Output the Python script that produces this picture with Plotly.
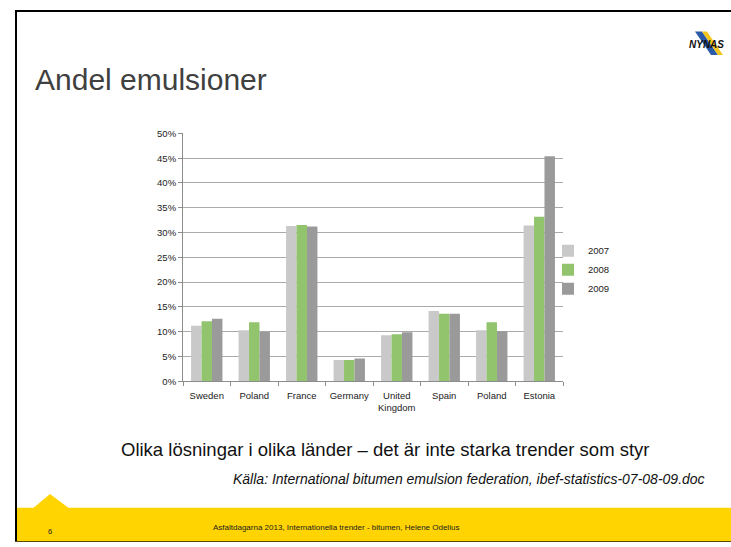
import plotly.graph_objects as go

W, H = 731, 547

countries = ["Sweden", "Poland", "France", "Germany", "United<br>Kingdom", "Spain", "Poland", "Estonia"]
years = ["2007", "2008", "2009"]
v2007 = [0.112, 0.103, 0.313, 0.043, 0.093, 0.142, 0.103, 0.314]
v2008 = [0.121, 0.119, 0.315, 0.043, 0.095, 0.136, 0.119, 0.332]
v2009 = [0.126, 0.100, 0.312, 0.046, 0.099, 0.136, 0.101, 0.454]
y_ticks = [0, 0.05, 0.10, 0.15, 0.20, 0.25, 0.30, 0.35, 0.40, 0.45, 0.50]

colors = ["#C9C9C9", "#92C46E", "#9A9A9A"]
series = [v2007, v2008, v2009]

def px(x):
    return x / W

def py(y):
    return 1 - y / H

xpos = list(range(len(countries)))

fig = go.Figure()
for name, vals, col in zip(years, series, colors):
    fig.add_trace(go.Bar(x=xpos, y=vals, name=name, marker=dict(color=col, line=dict(width=0))))

FONT = "Liberation Sans, Arial, sans-serif"

fig.update_layout(
    width=W, height=H,
    margin=dict(l=0, r=0, t=0, b=0),
    paper_bgcolor="white", plot_bgcolor="white",
    barmode="group", bargap=0.34, bargroupgap=0.0,
    font=dict(family=FONT, color="#333333"),
    showlegend=True,
    legend=dict(x=px(548), y=py(235), xanchor="left", yanchor="top",
                font=dict(size=9.5, color="#222222"), itemwidth=30,
                tracegroupgap=0, bgcolor="rgba(0,0,0,0)"),
    xaxis=dict(domain=[px(183), px(563)], range=[-0.5, 7.5],
               tickmode="array", tickvals=xpos, ticktext=countries,
               ticks="", showgrid=False, zeroline=False,
               showline=True, linecolor="#8C8C8C", linewidth=1,
               ticklabelstandoff=5,
               tickfont=dict(size=9.5, color="#222222"),
               minor=dict(tickmode="array", tickvals=[i - 0.5 for i in range(9)],
                          ticks="outside", ticklen=4, tickcolor="#8C8C8C", showgrid=False)),
    yaxis=dict(domain=[py(383), py(130)], range=[0, 0.5],
               tickmode="array", tickvals=y_ticks, tickformat=".0%",
               ticks="outside", ticklen=4, tickcolor="#8C8C8C",
               showgrid=True, gridcolor="#ABABAB", gridwidth=1,
               zeroline=False, showline=True, linecolor="#8C8C8C", linewidth=1,
               tickfont=dict(size=9.5, color="#222222")),
)

shapes = []
# yellow footer band with triangle
shapes.append(dict(type="rect", xref="paper", yref="paper",
                   x0=px(17), x1=px(731), y0=py(547), y1=py(512),
                   fillcolor="#FFD400", line=dict(width=0), layer="below"))
shapes.append(dict(type="path", xref="paper", yref="paper",
                   path=f"M {px(33)} {py(512.5)} L {px(50)} {py(498)} L {px(69)} {py(512.5)} Z",
                   fillcolor="#FFD400", line=dict(width=0), layer="below"))
# slide border
shapes.append(dict(type="line", xref="paper", yref="paper",
                   x0=px(16), x1=px(16), y0=py(4), y1=py(547), line=dict(color="black", width=2)))
shapes.append(dict(type="line", xref="paper", yref="paper",
                   x0=px(15), x1=px(731), y0=py(5), y1=py(5), line=dict(color="black", width=2)))
shapes.append(dict(type="line", xref="paper", yref="paper",
                   x0=px(15), x1=px(731), y0=py(546.5), y1=py(546.5), line=dict(color="#5A4A00", width=1)))
# logo stripes
shapes.append(dict(type="path", xref="paper", yref="paper",
                   path=f"M {px(695)} {py(26)} L {px(702)} {py(26)} L {px(718)} {py(50)} L {px(711)} {py(50)} Z",
                   fillcolor="#2B5BA8", line=dict(width=0), layer="below"))
shapes.append(dict(type="path", xref="paper", yref="paper",
                   path=f"M {px(702)} {py(26)} L {px(707)} {py(26)} L {px(723)} {py(50)} L {px(718)} {py(50)} Z",
                   fillcolor="#F2C51C", line=dict(width=0), layer="below"))

annotations = [
    dict(text="Andel emulsioner", x=px(33), y=py(75), xref="paper", yref="paper",
         xanchor="left", yanchor="middle", showarrow=False,
         font=dict(size=30, color="#404040", family=FONT)),
    dict(text="<b><i>NYNAS</i></b>", x=px(706), y=py(39), xref="paper", yref="paper",
         xanchor="center", yanchor="middle", showarrow=False,
         font=dict(size=10, color="#111111", family=FONT)),
    dict(text="Olika lösningar i olika länder – det är inte starka trender som styr",
         x=px(385), y=py(453), xref="paper", yref="paper",
         xanchor="center", yanchor="middle", showarrow=False,
         font=dict(size=18.5, color="#111111", family=FONT)),
    dict(text="<i>Källa: International bitumen emulsion federation, ibef-statistics-07-08-09.doc</i>",
         x=px(707), y=py(483), xref="paper", yref="paper",
         xanchor="right", yanchor="middle", showarrow=False,
         font=dict(size=14, color="#111111", family=FONT)),
    dict(text="Asfaltdagarna 2013, Internationella trender - bitumen, Helene Odelius",
         x=px(336), y=py(532), xref="paper", yref="paper",
         xanchor="center", yanchor="middle", showarrow=False,
         font=dict(size=8, color="#222222", family=FONT)),
    dict(text="6", x=px(50), y=py(536), xref="paper", yref="paper",
         xanchor="center", yanchor="middle", showarrow=False,
         font=dict(size=7.5, color="#222222", family=FONT)),
]

fig.update_layout(shapes=shapes, annotations=annotations)
fig.write_html("out.html", config={"displayModeBar": False},
               post_script="document.body.style.margin='0';document.body.style.overflow='hidden';")
